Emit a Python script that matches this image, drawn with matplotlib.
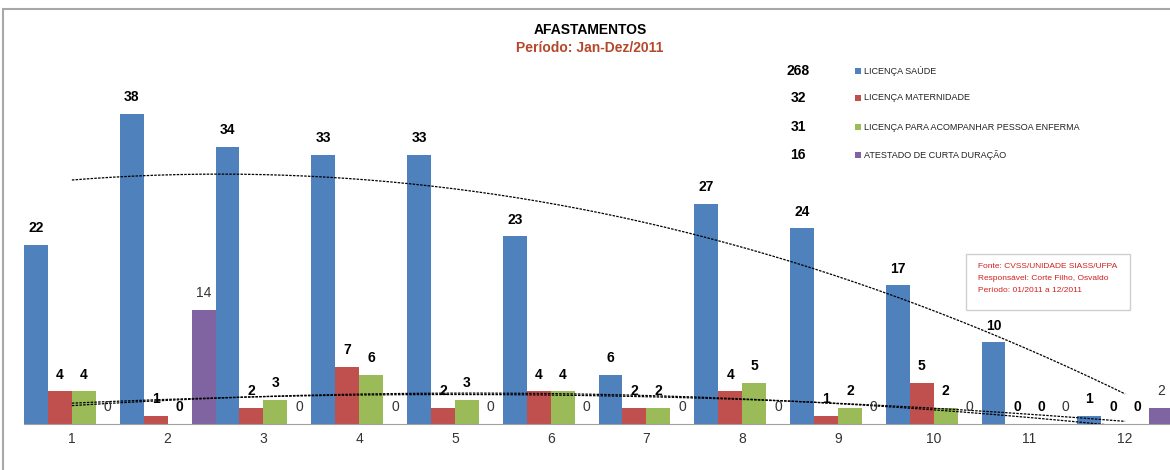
import numpy as np
import matplotlib
matplotlib.use("Agg")
import matplotlib.pyplot as plt
from matplotlib.patches import Rectangle

# Data
months = [1, 2, 3, 4, 5, 6, 7, 8, 9, 10, 11, 12]
saude = [22, 38, 34, 33, 33, 23, 6, 27, 24, 17, 10, 1]
maternidade = [4, 1, 2, 7, 2, 4, 2, 4, 1, 5, 0, 0]
acompanhar = [4, 0, 3, 6, 3, 4, 2, 5, 2, 2, 0, 0]
atestado = [0, 14, 0, 0, 0, 0, 0, 0, 0, 0, 0, 2]

series_names = ["LICENÇA SAÚDE", "LICENÇA MATERNIDADE",
                "LICENÇA PARA ACOMPANHAR PESSOA ENFERMA",
                "ATESTADO DE CURTA DURAÇÃO"]
colors = ["#4F81BD", "#C0504D", "#9BBB59", "#8064A2"]

plt.rcParams['font.family'] = ['Liberation Sans Narrow', 'Liberation Sans', 'DejaVu Sans']

fig = plt.figure(figsize=(11.7, 4.7), dpi=100)
ax = fig.add_axes([24 / 1170, 46 / 470, 1149 / 1170, 367 / 470])

x = np.array(months, dtype=float)
w = 0.25
all_series = [saude, maternidade, acompanhar, atestado]
for i, (vals, col) in enumerate(zip(all_series, colors)):
    pos = x + (i - 1.5) * w
    ax.bar(pos, vals, width=w, color=col, edgecolor="none", zorder=2)
    for px, v in zip(pos, vals):
        weight = "normal" if i == 3 else "bold"
        tc = "#333333" if i == 3 else "black"
        ax.annotate(str(v), (px, v), xytext=(0, 7), textcoords="offset points",
                    ha="center", va="bottom", fontsize=10, fontweight=weight,
                    color=tc, zorder=4)

# polynomial trendlines (order 2), like the Excel ones
xt = np.linspace(1, 12, 200)
for vals in [saude, maternidade, acompanhar]:
    c = np.polyfit(x, vals, 2)
    ax.plot(xt, np.polyval(c, xt), color="black", lw=0.9,
            linestyle=(0, (2, 1)), zorder=3)

ax.set_xlim(0.5, 12.5)
ax.set_ylim(0, 45)
ax.set_xticks(months)
ax.set_xticklabels([str(m) for m in months], fontsize=10, color="#333333")
ax.tick_params(axis="x", length=0, pad=6)
ax.set_yticks([])
for s in ["top", "right", "left"]:
    ax.spines[s].set_visible(False)
ax.spines["bottom"].set_color("#A0A0A0")
ax.patch.set_alpha(0)

# title
fig.text(590 / 1170, 1 - 30 / 470, "AFASTAMENTOS", ha="center", va="center",
         fontsize=10, fontweight="bold", color="black")
fig.text(590 / 1170, 1 - 48 / 470, "Período: Jan-Dez/2011", ha="center", va="center",
         fontsize=10, fontweight="bold", color="#B5482A")

# legend with totals
legend_y = [71, 98, 127, 155]
for name, col, vals, ly in zip(series_names, colors, all_series, legend_y):
    fig.text(798 / 1170, 1 - ly / 470, str(sum(vals)), ha="center", va="center",
             fontsize=10, fontweight="bold", color="black")
    fig.patches.append(Rectangle((855 / 1170, 1 - (ly + 3) / 470), 6 / 1170, 6 / 470,
                                 transform=fig.transFigure, facecolor=col,
                                 edgecolor="none"))
    fig.text(864 / 1170, 1 - ly / 470, name, ha="left", va="center",
             fontsize=6.5, color="#222222")

# source box
fig.patches.append(Rectangle((966 / 1170, 1 - 310 / 470), 164 / 1170, 56 / 470,
                             transform=fig.transFigure, facecolor="white",
                             edgecolor="#D0D0D0", lw=1, zorder=5))
src_lines = ["Fonte: CVSS/UNIDADE SIASS/UFPA",
             "Responsável: Corte Filho, Osvaldo",
             "Período: 01/2011 a 12/2011"]
for k, t in enumerate(src_lines):
    fig.text(978 / 1170, 1 - (266 + 12.5 * k) / 470, t, ha="left", va="center",
             fontsize=6, color="#D02020", zorder=6)

# chart frame
fig.patches.append(Rectangle((3 / 1170, -0.1), 1.2, 1 - 9 / 470 + 0.1,
                             transform=fig.transFigure, facecolor="none",
                             edgecolor="#A8A8A8", lw=1.5))

fig.savefig("out.png", dpi=100)
